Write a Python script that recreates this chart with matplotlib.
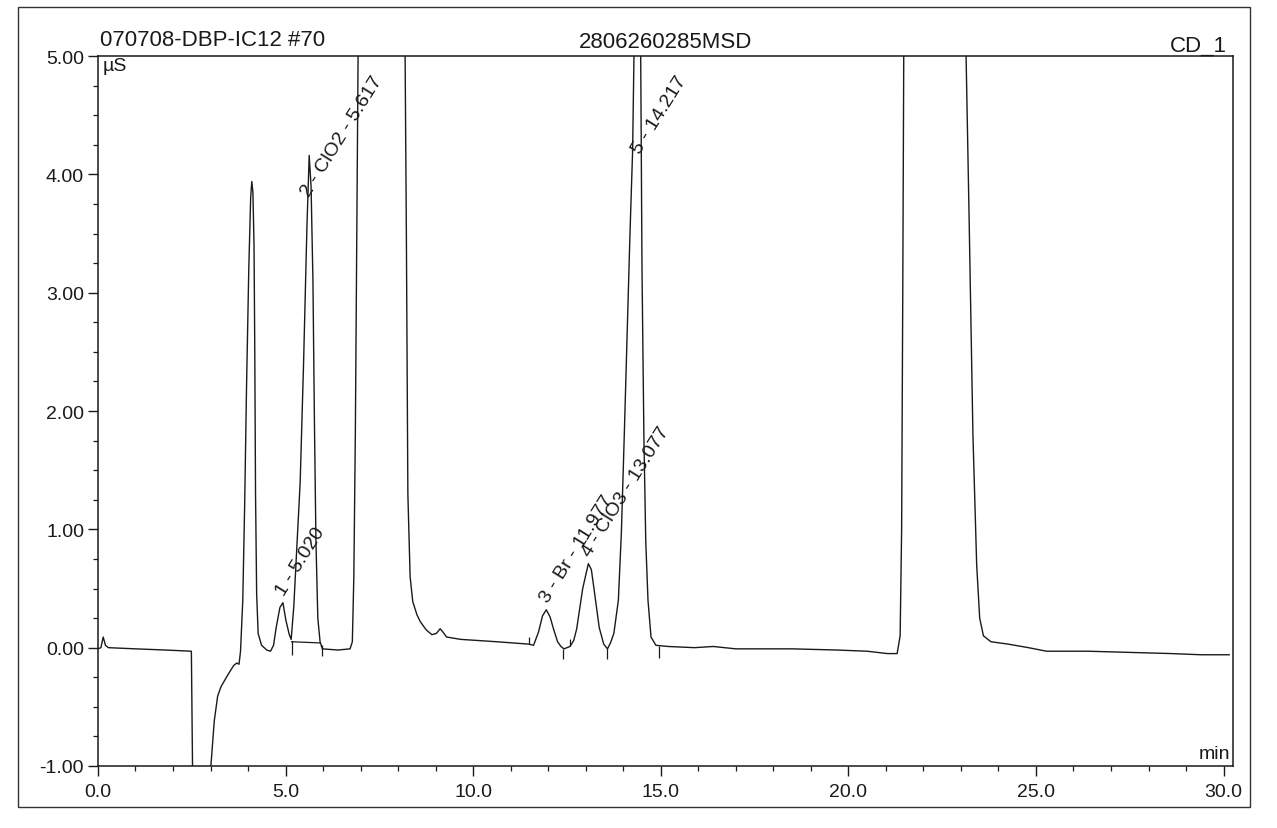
import matplotlib
matplotlib.use('Agg')
import matplotlib.pyplot as plt
from matplotlib.ticker import MultipleLocator, FormatStrFormatter
from matplotlib.patches import Rectangle

plt.rcParams['font.family'] = ['Liberation Sans', 'DejaVu Sans']
plt.rcParams['axes.unicode_minus'] = False

# chromatogram trace (min, µS); values above 5 / below -1 are off scale
time_min = [0.00, 0.08, 0.14, 0.20, 0.28, 1.00, 1.80, 2.45, 2.49, 2.53, 2.95, 3.01,
            3.10, 3.19, 3.28, 3.37, 3.50, 3.62, 3.70, 3.76, 3.80, 3.86, 3.91, 3.96,
            4.02, 4.07, 4.10, 4.13, 4.16, 4.18, 4.20, 4.23, 4.27, 4.36, 4.50, 4.60,
            4.68, 4.75, 4.85, 4.93, 5.01, 5.10, 5.15, 5.22, 5.30, 5.39, 5.48, 5.57,
            5.63, 5.68, 5.73, 5.77, 5.81, 5.86, 5.92, 5.98, 6.40, 6.72, 6.78, 6.82,
            6.86, 6.90, 6.94, 8.18, 8.22, 8.26, 8.32, 8.39, 8.50, 8.59, 8.75, 8.90,
            9.02, 9.12, 9.20, 9.29, 9.67, 10.63, 11.48, 11.61, 11.74, 11.85, 11.95, 12.05,
            12.14, 12.25, 12.34, 12.42, 12.58, 12.68, 12.76, 12.92, 13.07, 13.15, 13.22, 13.36,
            13.48, 13.58, 13.66, 13.75, 13.87, 13.95, 14.03, 14.10, 14.18, 14.25, 14.30, 14.46,
            14.50, 14.55, 14.60, 14.66, 14.74, 14.87, 15.20, 15.90, 16.40, 17.00, 18.50, 19.70,
            20.50, 21.04, 21.30, 21.38, 21.42, 21.45, 21.48, 23.12, 23.22, 23.32, 23.42, 23.50,
            23.60, 23.80, 24.26, 24.80, 25.28, 26.38, 27.50, 28.61, 29.40, 30.15]
signal_us = [-0.01, 0.00, 0.09, 0.02, 0.00, -0.01, -0.02, -0.03, -0.03, -1.30, -1.30, -1.00,
             -0.62, -0.41, -0.33, -0.28, -0.21, -0.15, -0.13, -0.14, -0.03, 0.40, 1.20, 2.20,
             3.20, 3.80, 3.94, 3.85, 3.40, 2.50, 1.30, 0.45, 0.12, 0.02, -0.02, -0.03,
             0.02, 0.17, 0.34, 0.38, 0.23, 0.11, 0.07, 0.35, 0.85, 1.40, 2.40, 3.56,
             4.16, 3.90, 3.10, 1.90, 0.90, 0.25, 0.05, -0.01, -0.02, -0.01, 0.05, 0.60,
             1.80, 3.50, 5.30, 5.30, 3.50, 1.30, 0.60, 0.39, 0.28, 0.22, 0.15, 0.11,
             0.12, 0.16, 0.13, 0.09, 0.07, 0.05, 0.03, 0.02, 0.13, 0.27, 0.32, 0.26,
             0.16, 0.05, 0.01, -0.01, 0.01, 0.06, 0.16, 0.50, 0.71, 0.66, 0.50, 0.17,
             0.03, -0.01, 0.04, 0.12, 0.40, 0.97, 1.82, 2.60, 3.50, 4.20, 5.30, 5.30,
             3.20, 1.80, 0.90, 0.40, 0.09, 0.02, 0.01, 0.00, 0.01, -0.01, -0.01, -0.02,
             -0.03, -0.05, -0.05, 0.10, 1.00, 3.00, 5.30, 5.30, 3.60, 1.80, 0.70, 0.25,
             0.10, 0.05, 0.03, 0.00, -0.03, -0.03, -0.04, -0.05, -0.06, -0.06]

# peak annotations
peak_labels = ['1 - 5.020', '2 - ClO2 - 5.617', '3 - Br - 11.977', '4 - ClO3 - 13.077', '5 - 14.217']
label_t = [4.95, 5.63, 12.00, 13.11, 14.44]
label_v = [0.44, 3.81, 0.38, 0.77, 4.17]

# peak start/end delimiter marks (time, low, high)
delim_t = [5.16, 5.96, 11.48, 12.39, 12.58, 13.57, 14.95]
delim_lo = [-0.06, -0.07, 0.03, -0.10, 0.01, -0.10, -0.09]
delim_hi = [0.06, 0.02, 0.09, -0.01, 0.07, 0.00, 0.01]

# integration baseline under peak 2
base_t = [5.16, 5.93]
base_v = [0.05, 0.04]

x_ticks = [0, 5, 10, 15, 20, 25, 30]
y_ticks = [-1, 0, 1, 2, 3, 4, 5]

ink = '#1a1a1a'

fig = plt.figure(figsize=(12.77, 8.29), dpi=100)
ax = fig.add_axes([0.0767, 0.0748, 0.8888, 0.8564])

ax.plot(time_min, signal_us, color=ink, lw=1.0)
ax.plot(base_t, base_v, color=ink, lw=0.9)
ax.vlines(delim_t, delim_lo, delim_hi, color=ink, lw=0.9)

for lab, t, v in zip(peak_labels, label_t, label_v):
    ax.text(t, v, lab, rotation=58, rotation_mode='anchor', ha='left', va='baseline',
            fontsize=14, color=ink)

ax.set_xlim(0, 30.25)
ax.set_ylim(-1, 5)
ax.set_xticks(x_ticks)
ax.set_yticks(y_ticks)
ax.xaxis.set_minor_locator(MultipleLocator(1))
ax.yaxis.set_minor_locator(MultipleLocator(0.25))
ax.xaxis.set_major_formatter(FormatStrFormatter('%.1f'))
ax.yaxis.set_major_formatter(FormatStrFormatter('%.2f'))
ax.tick_params(which='major', direction='out', length=7, width=1.0, labelsize=14,
               colors=ink, pad=3)
ax.tick_params(which='minor', direction='out', length=3.5, width=0.9, colors=ink)
ax.tick_params(axis='x', which='major', pad=5)
for sp in ax.spines.values():
    sp.set_color(ink)
    sp.set_linewidth(1.1)

# header texts
ax.text(0.002, 1.008, '070708-DBP-IC12 #70', transform=ax.transAxes, ha='left', va='bottom',
        fontsize=16, color=ink)
ax.text(0.5, 1.006, '2806260285MSD', transform=ax.transAxes, ha='center', va='bottom',
        fontsize=16, color=ink)
ax.text(0.995, 1.0, 'CD_1', transform=ax.transAxes, ha='right', va='bottom',
        fontsize=16, color=ink)
ax.text(0.004, 0.998, 'µS', transform=ax.transAxes, ha='left', va='top',
        fontsize=14, color=ink)
ax.text(0.998, 0.006, 'min', transform=ax.transAxes, ha='right', va='bottom',
        fontsize=14, color=ink)

# printout frame
fig.add_artist(Rectangle((0.014, 0.025), 0.965, 0.965, transform=fig.transFigure,
                         fill=False, lw=1.0, edgecolor='#333333'))

fig.savefig('out.png', dpi=100)
